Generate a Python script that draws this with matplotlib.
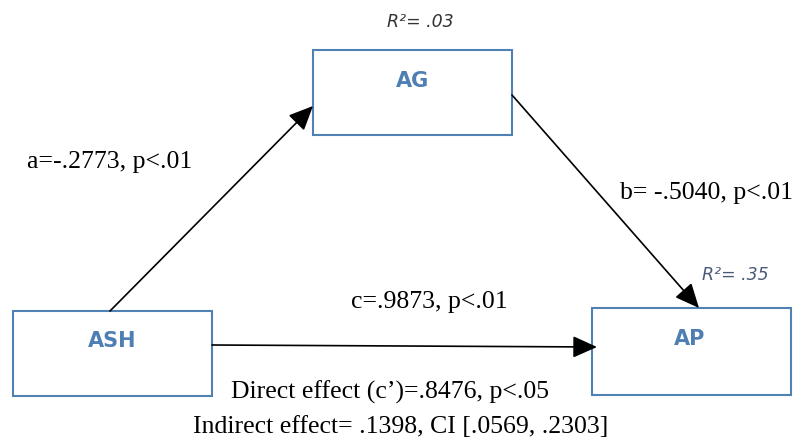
import matplotlib
matplotlib.use("Agg")
import matplotlib.pyplot as plt
from matplotlib.patches import Rectangle, FancyArrowPatch

W, H = 807, 441
fig = plt.figure(figsize=(W/100, H/100), dpi=100)
ax = fig.add_axes([0, 0, 1, 1])
ax.set_xlim(0, W)
ax.set_ylim(H, 0)
ax.axis("off")

box_names = ["AG", "ASH", "AP"]
# (x0, y0, x1, y1) in pixel-like coords
boxes = {"AG": (313, 50, 512, 135), "ASH": (13, 311, 212, 396), "AP": (592, 308, 791, 395)}
label_pos = {"AG": (413, 81), "ASH": (112, 341), "AP": (690, 339)}
box_color = "#4f81b5"
label_color = "#4f7fb2"

for n in box_names:
    x0, y0, x1, y1 = boxes[n]
    ax.add_patch(Rectangle((x0, y0), x1-x0, y1-y0, fill=False, ec=box_color, lw=1.5))
    ax.text(*label_pos[n], n, ha="center", va="center", fontsize=15, fontweight="bold",
            color=label_color, family="DejaVu Sans")

arrows = [((110, 311), (313, 106)), ((512, 95), (699, 308)), ((212, 345), (597, 347))]
for s, e in arrows:
    ax.add_patch(FancyArrowPatch(s, e, arrowstyle="-|>,head_length=1.0,head_width=0.45",
                                 mutation_scale=15, lw=1.2, color="black", shrinkA=0, shrinkB=0))

path_labels = ["a=-.2773, p<.01", "b= -.5040, p<.01", "c=.9873, p<.01"]
path_pos = [(110, 162), (706, 193), (429, 302)]
for t, p in zip(path_labels, path_pos):
    ax.text(*p, t, ha="center", va="center", fontsize=18.5, family="Liberation Serif", color="black")

effects = ["Direct effect (c\u2019)=.8476, p<.05", "Indirect effect= .1398, CI [.0569, .2303]"]
effects_pos = [(390, 392), (401, 427)]
for t, p in zip(effects, effects_pos):
    ax.text(*p, t, ha="center", va="center", fontsize=18.5, family="Liberation Serif", color="black")

r2 = ["R\u00b2= .03", "R\u00b2= .35"]
r2_pos = [(420, 22), (735, 275)]
r2_col = ["#333333", "#4a5a78"]
for t, p, c in zip(r2, r2_pos, r2_col):
    ax.text(*p, t, ha="center", va="center", fontsize=12.5, style="italic", color=c, family="DejaVu Sans")

fig.savefig("out.png", dpi=100)
